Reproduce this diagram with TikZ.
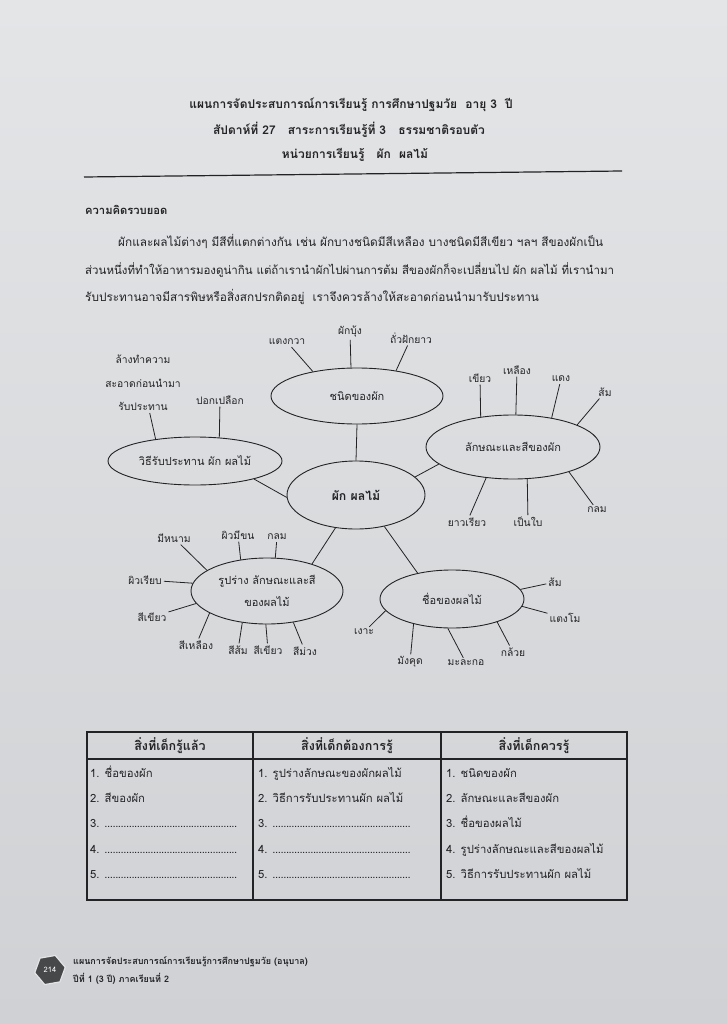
\documentclass[tikz,border=0pt]{standalone}
\usepackage{fontspec}
\setmainfont[Script=Thai]{Loma}
\usetikzlibrary{shapes.geometric, positioning}
\definecolor{ink}{RGB}{35,35,38}
\definecolor{paperhi}{RGB}{228,229,231}
\definecolor{paperlo}{RGB}{208,209,212}
\definecolor{badge}{RGB}{70,72,74}
\newcommand{\dotrow}[1]{\hbox to #1{\leaders\hbox to 2.7pt{\hss.\hss}\hfill}}

\begin{document}
\begin{tikzpicture}[
  x=1pt, y=-1pt,
  font=\fontsize{10.3}{12}\selectfont, text=ink,
  head/.style={font=\fontsize{12}{14}\selectfont\bfseries},
  body/.style={font=\fontsize{11.8}{14}\selectfont, anchor=west, inner sep=0pt},
  hub/.style={ellipse, draw=ink, line width=0.9pt, inner sep=0pt,
              align=center, font=\fontsize{11}{22}\selectfont},
  lbl/.style={inner sep=2pt, align=center},
  spk/.style={draw=ink, line width=0.8pt},
  cell/.style={anchor=base west, inner sep=0pt, font=\fontsize{11.3}{13}\selectfont},
  colhead/.style={font=\fontsize{12.5}{14}\selectfont\bfseries},
  grid/.style={draw=ink, line width=1.1pt}
]
  \shade[top color=paperhi, bottom color=paperlo] (0,0) rectangle (727,1024);
  \useasboundingbox (0,0) rectangle (727,1024);

  \node[head] (t1) at (351,105) {แผนการจัดประสบการณ์การเรียนรู้ การศึกษาปฐมวัย~~อายุ 3~~ปี};
  \node[head] (t2) at (349,130) {สัปดาห์ที่ 27~~~สาระการเรียนรู้ที่ 3~~~ธรรมชาติรอบตัว};
  \node[head] (t3) at (355,155) {หน่วยการเรียนรู้~~~ผัก~~ผลไม้};
  \draw[line width=1.2pt, ink] (84,177) -- (622,171);

  \node[body, font=\fontsize{11.2}{13}\selectfont\bfseries] (idea) at (85,210) {ความคิดรวบยอด};
  \node[body] (p1) at (118,242) {ผักและผลไม้ต่างๆ มีสีที่แตกต่างกัน เช่น ผักบางชนิดมีสีเหลือง บางชนิดมีสีเขียว ฯลฯ สีของผักเป็น};
  \node[body, font=\fontsize{11.5}{14}\selectfont] (p2) at (85,270) {ส่วนหนึ่งที่ทำให้อาหารมองดูน่ากิน แต่ถ้าเรานำผักไปผ่านการต้ม สีของผักก็จะเปลี่ยนไป ผัก ผลไม้ ที่เรานำมา};
  \node[body] (p3) at (85,297) {รับประทานอาจมีสารพิษหรือสิ่งสกปรกติดอยู่~ เราจึงควรล้างให้สะอาดก่อนนำมารับประทาน};

  \node[hub, minimum width=138pt, minimum height=68pt, font=\fontsize{12.3}{14}\selectfont\bfseries] (core) at (356,495) {ผัก ผลไม้};
  \node[hub, minimum width=172pt, minimum height=56pt] (kind) at (357,396) {ชนิดของผัก};
  \node[hub, minimum width=174pt, minimum height=64pt] (look) at (513,447) {ลักษณะและสีของผัก};
  \node[hub, minimum width=174pt, minimum height=48pt] (eat) at (195,461) {วิธีรับประทาน ผัก ผลไม้};
  \node[hub, minimum width=152pt, minimum height=66pt] (form) at (267,591) {รูปร่าง ลักษณะและสี\\ของผลไม้};
  \node[hub, minimum width=144pt, minimum height=58pt] (fruit) at (452,599) {ชื่อของผลไม้};

  \draw[spk] (core.90) -- (kind.270);
  \draw[spk] (core.17) -- (look.193);
  \draw[spk] (core.182) -- (eat.-17);
  \draw[spk] (core.238) -- (form.31);
  \draw[spk] (core.312) -- (fruit.143);

  \foreach \n/\p/\a/\t in {k1/{287,342}/151/แตงกวา, k2/{350,332}/102/ผักบุ้ง, k3/{411,338}/33/ถั่วฝักยาว}
    {\node[lbl] (\n) at (\p) {\t}; \draw[spk] (\n) -- (kind.\a);}

  \foreach \n/\p/\a/\t in {l1/{480,378}/137/เขียว, l2/{517,370}/85/เหลือง, l3/{561,379}/37/แดง,
      l4/{605,392}/19/ส้ม, l5/{467,522}/229/ยาวเรียว, l6/{528,522}/294/เป็นใบ, l7/{597,510}/336/กลม}
    {\node[lbl] (\n) at (\p) {\t}; \draw[spk] (\n) -- (look.\a);}

  \node[lbl, font=\fontsize{10.3}{23.5}\selectfont] (e1) at (143,383) {ล้างทำความ\\สะอาดก่อนนำมา\\รับประทาน};
  \node[lbl] (e2) at (220,400) {ปอกเปลือก};
  \draw[spk] (e1) -- (eat.151);
  \draw[spk] (e2) -- (eat.44);

  \foreach \n/\p/\a/\t in {f1/{174,538}/161/มีหนาม, f2/{238,535}/130/ผิวมีขน, f3/{277,537}/76/กลม,
      f4/{145,580}/174/ผิวเรียบ, f5/{152,617}/190/สีเขียว, f6/{196,645}/201/สีเหลือง,
      f7/{238,650}/232/สีส้ม, f8/{268,650}/268/สีเขียว, f9/{305,651}/310/สีม่วง}
    {\node[lbl] (\n) at (\p) {\t}; \draw[spk] (\n) -- (form.\a);}

  \foreach \n/\p/\a/\t in {n1/{555,582}/8/ส้ม, n2/{565,618}/354/แตงโม, n3/{513,652}/333/กล้วย,
      n4/{466,663}/262/มะละกอ, n5/{410,662}/213/มังคุด, n6/{364,632}/190/เงาะ}
    {\node[lbl] (\n) at (\p) {\t}; \draw[spk] (\n) -- (fruit.\a);}

  \draw[grid] (87,732) rectangle (627,900);
  \draw[grid] (87,759) -- (627,759);
  \draw[grid] (253,732) -- (253,900);
  \draw[grid] (441,732) -- (441,900);

  \node[colhead] (h1) at (170,746) {สิ่งที่เด็กรู้แล้ว};
  \node[colhead] (h2) at (347,746) {สิ่งที่เด็กต้องการรู้};
  \node[colhead] (h3) at (534,746) {สิ่งที่เด็กควรรู้};

  \foreach \t [count=\i] in {1. ชื่อของผัก, 2. สีของผัก, 3. \dotrow{133pt}, 4. \dotrow{133pt}, 5. \dotrow{133pt}}
    \node[cell] (a\i) at (90,{752+25.3*\i}) {\t};
  \foreach \t [count=\i] in {1. รูปร่างลักษณะของผักผลไม้, 2. วิธีการรับประทานผัก ผลไม้,
      3. \dotrow{140pt}, 4. \dotrow{140pt}, 5. \dotrow{140pt}}
    \node[cell] (b\i) at (258,{752+25.3*\i}) {\t};
  \foreach \t [count=\i] in {1. ชนิดของผัก, 2. ลักษณะและสีของผัก, 3. ชื่อของผลไม้,
      4. รูปร่างลักษณะและสีของผลไม้, 5. วิธีการรับประทานผัก ผลไม้}
    \node[cell] (c\i) at (446,{752+25.3*\i}) {\t};

  \node[regular polygon, regular polygon sides=6, shape border rotate=10, fill=badge, draw=paperhi,
        line width=1.2pt, minimum size=31pt, inner sep=0pt, text=white,
        font=\fontsize{7.5}{8}\selectfont] (pg) at (50,970) {214};
  \node[body, font=\fontsize{9}{10}\selectfont\bfseries] (ft1) at (73,962) {แผนการจัดประสบการณ์การเรียนรู้การศึกษาปฐมวัย (อนุบาล)};
  \node[body, font=\fontsize{9}{10}\selectfont\bfseries] (ft2) at (73,979) {ปีที่ 1 (3 ปี) ภาคเรียนที่ 2};
\end{tikzpicture}
\end{document}
